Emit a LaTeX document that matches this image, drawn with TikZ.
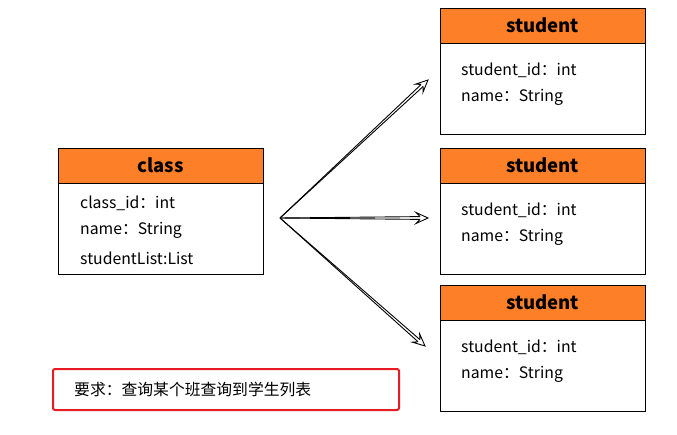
\documentclass[tikz,border=0pt]{standalone}
\usepackage{fontspec}
\setmainfont{Noto Sans CJK SC}
\usetikzlibrary{calc,positioning,backgrounds}
\definecolor{headorange}{RGB}{253,127,39}
\definecolor{noteRed}{RGB}{232,28,36}

\begin{document}
\begin{tikzpicture}
	[x=1pt,y=-1pt,
	headbox/.style={draw=black,fill=headorange,minimum width=205pt,minimum height=35pt,inner sep=0pt,font=\fontsize{18.5}{21}\selectfont\bfseries},
	bodybox/.style={draw=black,fill=white,minimum width=205pt,inner sep=0pt},
	field/.style={anchor=west,inner sep=0pt,font=\fontsize{15.8}{18}\selectfont},
	link/.style={line width=0.9pt,line join=miter}]
	\useasboundingbox (0,0) rectangle (677,435);
	
	% class table
	\node[headbox,anchor=north west] (classHead) at (58,148) {class};
	\node[bodybox,minimum height=91pt,below=0pt of classHead] (classBody) {};
	\node[field] (classId) at (80,203) {class\_id：int};
	\node[field] (className) at (80,230) {name：String};
	\node[field] (classList) at (80,258) {studentList:List};
	
	% student tables
	\foreach \i/\y in {1/8,2/148,3/285}{
		\node[headbox,anchor=north west] (stuHead\i) at (440,\y) {student};
		\node[bodybox,minimum height=91pt,below=0pt of stuHead\i] (stuBody\i) {};
		\node[field] (stuId\i) at (461,\y+62) {student\_id：int};
		\node[field] (stuName\i) at (461,\y+89) {name：String};
	}
	
	% one to many
	\coordinate (fork) at (280,218);
	\coordinate (tip1) at (428,80);
	\coordinate (tip2) at (428,218);
	\coordinate (tip3) at (425,346);
	\foreach \i in {1,2,3}{
		\coordinate (back\i) at ($(tip\i)!12pt!(fork)$);
		\coordinate (notch\i) at ($(tip\i)!8pt!(fork)$);
		\coordinate (notchL\i) at ($(notch\i)!1.4pt!90:(tip\i)$);
		\coordinate (notchR\i) at ($(notch\i)!1.4pt!-90:(tip\i)$);
		\draw[link] (fork) -- (notchL\i);
		\draw[link] (fork) -- (notchR\i);
		\filldraw[link,fill=white] (notchL\i) -- ($(back\i)!5.5pt!90:(tip\i)$) -- (tip\i) -- ($(back\i)!5.5pt!-90:(tip\i)$) -- (notchR\i);
	}
	
	% note
	\node[draw=noteRed,line width=2pt,rounded corners=2pt,anchor=north west,minimum width=346pt,minimum height=41pt] (note) at (52,368) {};
	\node[field] (noteText) at (74,389) {要求：查询某个班查询到学生列表};
\end{tikzpicture}
\end{document}
